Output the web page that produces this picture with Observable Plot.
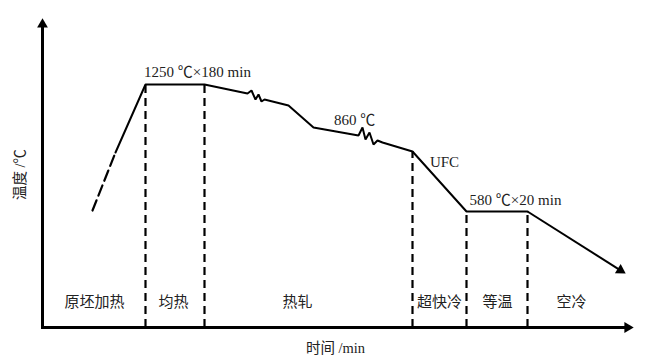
<!DOCTYPE html>
<html>
<head>
<meta charset="utf-8">
<script src="https://cdn.jsdelivr.net/npm/d3@7"></script>
<script src="https://cdn.jsdelivr.net/npm/@observablehq/plot@0.6"></script>
<style>
  html, body { margin: 0; padding: 0; background: #fff; }
  #chart svg { display: block; }
</style>
</head>
<body>
<div id="chart"></div>
<script>
// Schematic process route (time in arbitrary units, temperature level in arbitrary units)
const heatingTime = [50, 73];
const heatingTemp = [117, 175];

const profileTime = [73, 103, 162, 205, 209, 213, 216, 219, 222, 246, 271, 316, 320, 323, 327, 331, 335, 340, 370, 424, 485];
const profileTemp = [175, 243, 243, 234, 237, 228, 233, 226, 228, 222, 200, 192, 200, 188, 195, 183, 187, 185, 176, 116, 116];

const airCoolTime = [485, 583];
const airCoolTemp = [116, 54];

const stageBoundTime = [103, 162, 370, 424, 485];
const stageBoundTemp = [243, 243, 176, 116, 116];

const stageNames = ["原坯加热", "均热", "热轧", "超快冷", "等温", "空冷"];
const stageNameTime = [52, 131, 255, 397, 455, 529];
const stageNameTemp = [25, 25, 25, 25, 25, 25];

const noteTexts = ["1250 ℃×180 min", "860 ℃", "UFC", "580 ℃×20 min"];
const noteTime = [155, 312, 402, 473];
const noteTemp = [255, 207, 165, 127];

const axisTimeEnd = 591;
const axisTempEnd = 309;
const xTitle = "时间 /min";
const yTitle = "温度 /℃";

const font = "'Liberation Serif', 'Times New Roman', 'Noto Sans CJK SC', serif";

const zip = (xs, ys) => xs.map((x, i) => ({x, y: ys[i]}));
const heating = zip(heatingTime, heatingTemp);
const profile = zip(profileTime, profileTemp);
const bounds = zip(stageBoundTime, stageBoundTemp);
const stages = stageNames.map((s, i) => ({s, x: stageNameTime[i], y: stageNameTemp[i]}));
const notes = noteTexts.map((s, i) => ({s, x: noteTime[i], y: noteTemp[i]}));

// arrowheads: tip and direction (1 unit = 1 px on both scales)
function head(x1, y1, x2, y2, back) {
  const dx = x2 - x1, dy = y2 - y1, L = Math.hypot(dx, dy);
  const ux = dx / L, uy = dy / L;
  return {x: x2 - ux * back, y: y2 - uy * back, rotate: Math.atan2(dx, dy) * 180 / Math.PI};
}
const heads = [
  head(0, 0, 0, axisTempEnd, 6),
  head(0, 0, axisTimeEnd, 0, 6),
  head(airCoolTime[0], airCoolTemp[0], airCoolTime[1], airCoolTemp[1], 6)
];
const airLineEnd = head(airCoolTime[0], airCoolTemp[0], airCoolTime[1], airCoolTemp[1], 5);

const chart = Plot.plot({
  width: 666,
  height: 361,
  marginTop: 0, marginRight: 0, marginBottom: 0, marginLeft: 0,
  x: {domain: [-42, 624], range: [0, 666], axis: null},
  y: {domain: [-34, 327], range: [361, 0], axis: null},
  style: {background: "#fff", fontFamily: font},
  marks: [
    // stage boundaries
    Plot.ruleX(bounds, {x: "x", y1: 0, y2: "y", stroke: "#000", strokeWidth: 2.2, strokeDasharray: "8,5"}),
    // dashed heating start
    Plot.line(heating, {x: "x", y: "y", stroke: "#000", strokeWidth: 2.2, strokeDasharray: "11,5"}),
    // solid profile
    Plot.line(profile, {x: "x", y: "y", stroke: "#000", strokeWidth: 2, strokeLinejoin: "miter"}),
    Plot.link([0], {x1: () => airCoolTime[0], y1: () => airCoolTemp[0], x2: () => airLineEnd.x, y2: () => airLineEnd.y, stroke: "#000", strokeWidth: 2}),
    // axes
    Plot.link([0], {x1: () => 0, y1: () => -1.5, x2: () => 0, y2: () => axisTempEnd - 6, stroke: "#000", strokeWidth: 3}),
    Plot.link([0], {x1: () => -1.5, y1: () => 0, x2: () => axisTimeEnd - 6, y2: () => 0, stroke: "#000", strokeWidth: 3}),
    Plot.dot(heads, {x: "x", y: "y", rotate: "rotate", symbol: "triangle", r: 4, fill: "#000", stroke: "none"}),
    // labels
    Plot.text(stages, {x: "x", y: "y", text: "s", fontSize: 15, fill: "#222"}),
    Plot.text(notes, {x: "x", y: "y", text: "s", fontSize: 15, fill: "#222"}),
    Plot.text([xTitle], {x: () => 293, y: () => -21, text: d => d, fontSize: 14.5, fill: "#222"}),
    Plot.text([yTitle], {x: () => -22, y: () => 153, text: d => d, fontSize: 14.5, fill: "#222", rotate: -90})
  ]
});
document.getElementById("chart").appendChild(chart);
</script>
</body>
</html>
